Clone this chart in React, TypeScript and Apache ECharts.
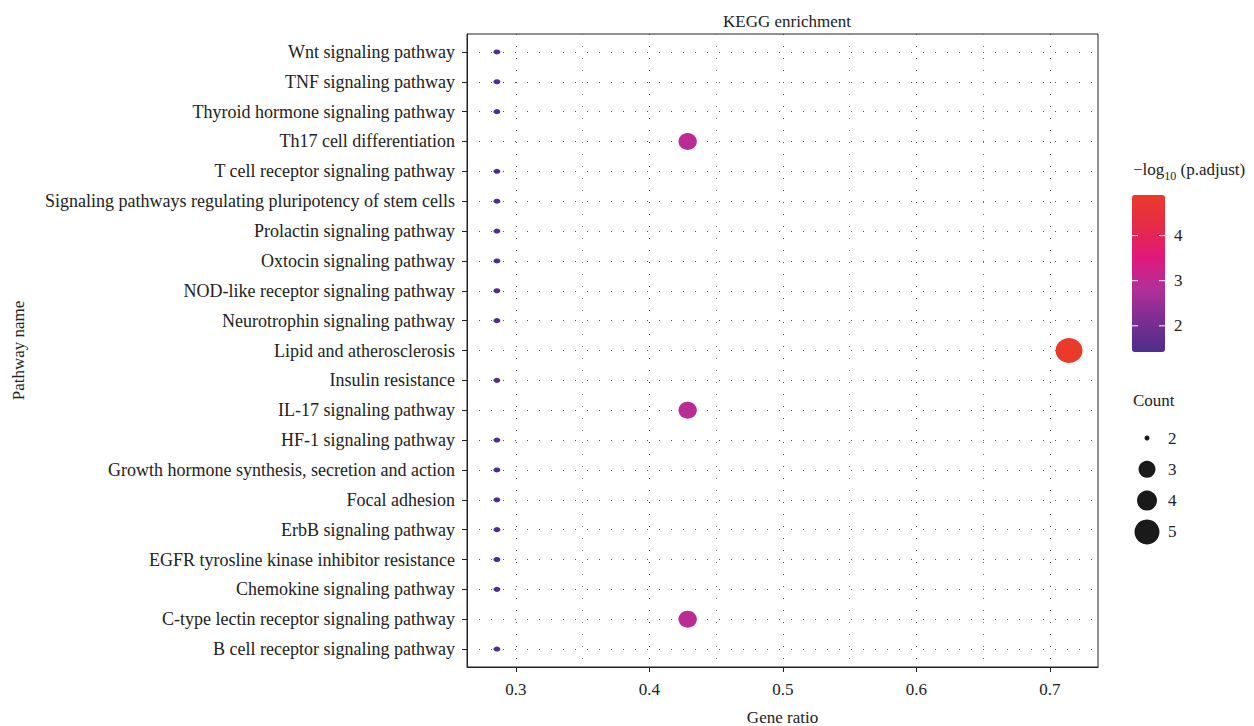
import React, { useEffect, useRef } from "react";
import * as echarts from "echarts";

const categories = [
  "Wnt signaling pathway",
  "TNF signaling pathway",
  "Thyroid hormone signaling pathway",
  "Th17 cell differentiation",
  "T cell receptor signaling pathway",
  "Signaling pathways regulating pluripotency of stem cells",
  "Prolactin signaling pathway",
  "Oxtocin signaling pathway",
  "NOD-like receptor signaling pathway",
  "Neurotrophin signaling pathway",
  "Lipid and atherosclerosis",
  "Insulin resistance",
  "IL-17 signaling pathway",
  "HF-1 signaling pathway",
  "Growth hormone synthesis, secretion and action",
  "Focal adhesion",
  "ErbB signaling pathway",
  "EGFR tyrosline kinase inhibitor resistance",
  "Chemokine signaling pathway",
  "C-type lectin receptor signaling pathway",
  "B cell receptor signaling pathway",
];
const geneRatio = [
  0.2857, 0.2857, 0.2857, 0.4286, 0.2857, 0.2857, 0.2857, 0.2857, 0.2857, 0.2857,
  0.7143, 0.2857, 0.4286, 0.2857, 0.2857, 0.2857, 0.2857, 0.2857, 0.2857, 0.4286, 0.2857,
];
const counts = [2, 2, 2, 3, 2, 2, 2, 2, 2, 2, 5, 2, 3, 2, 2, 2, 2, 2, 2, 3, 2];
const negLogP = [
  1.45, 1.45, 1.45, 2.95, 1.45, 1.45, 1.45, 1.45, 1.45, 1.45,
  4.9, 1.45, 2.95, 1.45, 1.45, 1.45, 1.45, 1.45, 1.45, 2.95, 1.45,
];
const xTicks = [0.3, 0.4, 0.5, 0.6, 0.7];
const xMinorTicks = [0.35, 0.45, 0.55, 0.65];
const colorTicks = [2, 3, 4];
const sizeLegend = [2, 3, 4, 5];
const sizeByCount: Record<number, number> = { 2: 5, 3: 17, 4: 20, 5: 25 };

const X_MIN = 0.2633;
const X_MAX = 0.736;
const C_MIN = 1.42;
const C_MAX = 4.9;
const FONT = "'Liberation Serif', 'DejaVu Serif', serif";
const TXT = "#222";

export default function App() {
  const ref = useRef<HTMLDivElement>(null);
  useEffect(() => {
    if (!ref.current) return;
    const chart = echarts.init(ref.current, undefined, { renderer: "svg" });
    const data = categories.map((_, i) => [geneRatio[i], i, counts[i], negLogP[i]]);

    const barLeft = 1132, barTop = 195, barW = 33, barH = 157;
    const cy = (v: number) => barTop + ((C_MAX - v) / (C_MAX - C_MIN)) * barH;

    const graphics: any[] = [];
    graphics.push({
      type: "text",
      left: 1133,
      top: 161,
      style: {
        text: "{a|−log}{s|10}{a| (p.adjust)}",
        rich: {
          a: { fontFamily: FONT, fontSize: 17, fill: TXT },
          s: { fontFamily: FONT, fontSize: 12, fill: TXT, padding: [12, 0, 0, 0] },
        },
      },
    });
    colorTicks.forEach((v) => {
      const y = cy(v);
      graphics.push({ type: "line", z: 100, shape: { x1: barLeft, y1: y, x2: barLeft + 6, y2: y }, style: { stroke: "#fff", lineWidth: 1 } });
      graphics.push({ type: "line", z: 100, shape: { x1: barLeft + barW - 6, y1: y, x2: barLeft + barW, y2: y }, style: { stroke: "#fff", lineWidth: 1 } });
      graphics.push({
        type: "text",
        x: 1174,
        y,
        style: { text: String(v), fontFamily: FONT, fontSize: 17, fill: TXT, verticalAlign: "middle" },
      });
    });
    graphics.push({
      type: "text",
      left: 1133,
      top: 392,
      style: { text: "Count", fontFamily: FONT, fontSize: 17, fill: TXT },
    });
    sizeLegend.forEach((c, i) => {
      const y = 438 + i * 31.3;
      graphics.push({ type: "circle", shape: { cx: 1147, cy: y, r: sizeByCount[c] / 2 }, style: { fill: "#1a1a1a" } });
      graphics.push({
        type: "text",
        x: 1168,
        y,
        style: { text: String(c), fontFamily: FONT, fontSize: 17, fill: TXT, verticalAlign: "middle" },
      });
    });

    chart.setOption({
      animation: false,
      backgroundColor: "#fff",
      title: {
        text: "KEGG enrichment",
        left: 782,
        top: 8,
        textAlign: "center",
        textStyle: { fontFamily: FONT, fontSize: 17, fontWeight: "normal", color: TXT },
      },
      grid: {
        left: 467,
        right: 156,
        top: 34,
        bottom: 59,
        outerBoundsMode: "none",
        containLabel: false,
        show: true,
        borderColor: "#222",
        borderWidth: 1,
        backgroundColor: "transparent",
      },
      xAxis: [
        {
          type: "value",
          min: X_MIN,
          max: X_MAX,
          name: "Gene ratio",
          nameLocation: "middle",
          nameGap: 42,
          nameTextStyle: { fontFamily: FONT, fontSize: 17, color: TXT },
          axisLine: { show: true, onZero: false, lineStyle: { color: "#222" } },
          axisTick: { show: true, length: 5, customValues: xTicks, lineStyle: { color: "#222" } },
          axisLabel: {
            customValues: xTicks,
            fontFamily: FONT,
            fontSize: 17,
            color: TXT,
            margin: 14,
            formatter: (v: number) => v.toFixed(1),
          },
          splitLine: { show: true, lineStyle: { color: "#444", type: [1, 11], width: 1 } },
        },
        {
          type: "value",
          min: X_MIN,
          max: X_MAX,
          position: "bottom",
          axisLine: { show: false },
          axisTick: { show: false, customValues: xMinorTicks },
          axisLabel: { show: false, customValues: xMinorTicks },
          splitLine: { show: true, lineStyle: { color: "#777", type: [1, 11], width: 1 } },
        },
      ],
      yAxis: {
        type: "value",
        min: -0.6,
        max: 20.6,
        inverse: true,
        name: "Pathway name",
        nameLocation: "middle",
        nameGap: 440,
        nameRotate: 90,
        nameTextStyle: { fontFamily: FONT, fontSize: 17, color: TXT },
        axisLine: { show: true, onZero: false, lineStyle: { color: "#222" } },
        axisTick: { show: true, length: 5, customValues: categories.map((_, i) => i), lineStyle: { color: "#222" } },
        axisLabel: {
          customValues: categories.map((_, i) => i),
          fontFamily: FONT,
          fontSize: 18,
          color: TXT,
          margin: 12,
          formatter: (v: number) => categories[Math.round(v)] ?? "",
        },
        splitLine: { show: true, lineStyle: { color: "#555", type: [1, 11], width: 1 } },
      },
      visualMap: {
        type: "continuous",
        dimension: 3,
        seriesIndex: 0,
        min: C_MIN,
        max: C_MAX,
        orient: "vertical",
        left: barLeft - 15,
        top: barTop - 15,
        itemWidth: barW,
        itemHeight: barH,
        calculable: false,
        hoverLink: false,
        realtime: false,
        showLabel: false,
        text: null,
        inRange: { color: ["#4E2E8D", "#7A2E90", "#B1309A", "#E0187B", "#E62B47", "#EA3A2A"] },
      },
      graphic: graphics,
      series: [
        {
          type: "scatter",
          xAxisIndex: 0,
          data,
          symbol: "circle",
          symbolSize: (d: number[]) => {
            const s = sizeByCount[d[2]];
            return d[2] === 2 ? [7, 5] : [s * 1.08, s];
          },
          itemStyle: { opacity: 1 },
          z: 5,
        },
      ],
    });
    return () => chart.dispose();
  }, []);
  return (
    <div
      ref={ref}
      style={{ position: "fixed", left: 0, top: 0, width: 1254, height: 726, background: "#fff" }}
    />
  );
}
